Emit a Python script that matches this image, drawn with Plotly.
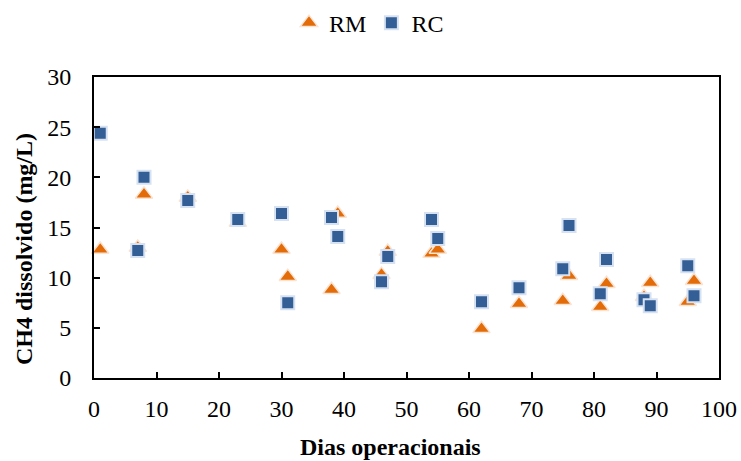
import plotly.graph_objects as go

days = [1, 7, 8, 15, 23, 30, 31, 38, 39, 46, 47, 54, 55, 62, 68, 75, 76, 81, 82, 88, 89, 95, 96]
rm_values = [12.8, 13.0, 18.3, 18.0, 15.5, 12.8, 10.1, 8.8, 16.4, 10.3, 12.6, 12.4, 12.8, 4.9, 7.4, 7.7, 10.2, 7.1, 9.4, 8.1, 9.5, 7.6, 9.7]
rc_values = [24.4, 12.7, 20.0, 17.7, 15.8, 16.4, 7.5, 16.0, 14.1, 9.6, 12.1, 15.8, 13.9, 7.6, 9.0, 10.9, 15.2, 8.4, 11.8, 7.8, 7.2, 11.2, 8.2]
x_title = "Dias operacionais"
y_title = "CH4 dissolvido (mg/L)"

font_family = "Liberation Serif, Times New Roman, serif"

fig = go.Figure()
fig.add_trace(go.Scatter(
    x=days, y=rm_values, mode="markers", name="RM",
    marker=dict(symbol="triangle-up", size=15, color="#E36C09",
                line=dict(color="#FBE3D2", width=1.5)),
    cliponaxis=False,
))
fig.add_trace(go.Scatter(
    x=days, y=rc_values, mode="markers", name="RC",
    marker=dict(symbol="square", size=13, color="#335E96",
                line=dict(color="#D6E2F2", width=2)),
    cliponaxis=False,
))

axis_common = dict(
    showline=True, linecolor="black", linewidth=2, mirror=True,
    ticks="inside", ticklen=6, tickwidth=2, tickcolor="black",
    showgrid=False, zeroline=False, automargin=False,
    tickfont=dict(family=font_family, size=24, color="black"),
)

fig.update_layout(
    width=741, height=461,
    margin=dict(l=94, r=22, t=77, b=83),
    paper_bgcolor="white", plot_bgcolor="white",
    font=dict(family=font_family, color="black"),
    showlegend=True,
    legend=dict(orientation="h", xref="container", yref="container",
                x=0.498, xanchor="center", y=0.95, yanchor="middle",
                font=dict(family=font_family, size=24, color="black"),
                itemwidth=30, tracegroupgap=0),
    xaxis=dict(range=[0, 100], dtick=10, tick0=0, ticklabelstandoff=8, **axis_common),
    yaxis=dict(range=[0, 30], dtick=5, tick0=0, ticklabelstandoff=16, **axis_common),
    annotations=[
        dict(text="<b>" + x_title + "</b>", xref="paper", yref="paper",
             x=0.4736, y=-0.229, xanchor="center", yanchor="middle", showarrow=False,
             font=dict(family=font_family, size=24, color="black")),
        dict(text="<b>" + y_title + "</b>", xref="paper", yref="paper", textangle=-90,
             x=-0.112, y=0.4286, xanchor="center", yanchor="middle", showarrow=False,
             font=dict(family=font_family, size=24, color="black")),
    ],
)

fig.write_html("out.html")
